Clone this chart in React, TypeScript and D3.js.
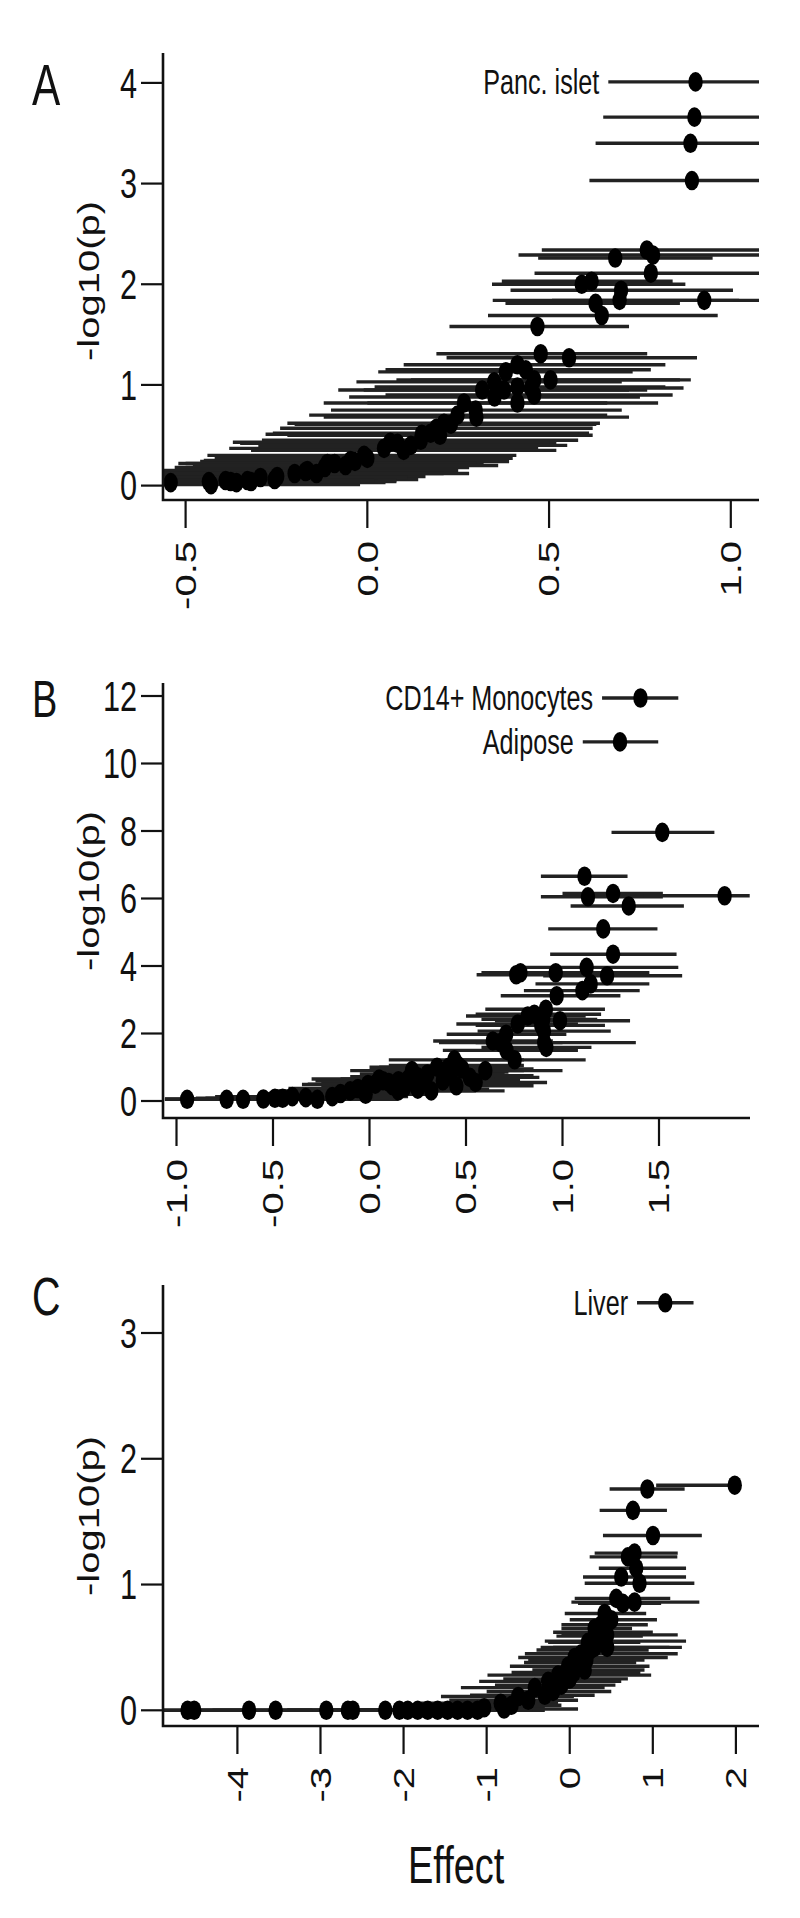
import React from "react";
import * as d3 from "d3";

// horizontal squeeze of the original figure
const K = 0.73;
const FONT = "'Liberation Sans', Arial, sans-serif";

// ---- Panel A : Panc. islet ----
const aEffect = [0.903, 0.9, 0.889, 0.893, 0.769, 0.786, 0.682, 0.78, 0.59, 0.617, 0.698, 0.694, 0.927, 0.628, 0.645, 0.468, 0.477, 0.555, 0.413, 0.436, 0.381, 0.349, 0.459, 0.504, 0.376, 0.413, 0.459, 0.413, 0.316, 0.45, 0.266, 0.298, 0.248, 0.23, 0.211, 0.19, 0.174, 0.15, 0.147, 0.083, 0.063, 0.046, -0.009, -0.034, -0.046, -0.09, -0.11, -0.117, -0.165, -0.17, -0.2, -0.248, -0.255, -0.294, -0.32, -0.33, -0.36, -0.376, -0.39, -0.43, -0.436, -0.541, 0.0, 0.1, 0.2, 0.12, -0.06, -0.14, 0.3, 0.35];
const aLogP = [4.01, 3.66, 3.4, 3.03, 2.34, 2.29, 2.26, 2.11, 2.0, 2.03, 1.94, 1.84, 1.84, 1.81, 1.69, 1.58, 1.31, 1.27, 1.2, 1.15, 1.13, 1.03, 1.05, 1.05, 0.95, 0.98, 0.9, 0.82, 0.95, 0.97, 0.82, 0.75, 0.7, 0.61, 0.62, 0.57, 0.52, 0.51, 0.45, 0.42, 0.43, 0.37, 0.3, 0.24, 0.25, 0.22, 0.22, 0.18, 0.15, 0.14, 0.12, 0.09, 0.06, 0.08, 0.04, 0.05, 0.03, 0.04, 0.05, 0.01, 0.04, 0.03, 0.27, 0.35, 0.5, 0.4, 0.2, 0.12, 0.68, 0.88];
const aLow = [0.663, 0.649, 0.628, 0.611, 0.48, 0.416, 0.47, 0.46, 0.343, 0.37, 0.394, 0.345, 0.508, 0.38, 0.332, 0.226, 0.19, 0.218, 0.1, 0.05, 0.03, -0.03, 0.08, 0.12, -0.01, 0.02, 0.05, 0.0, -0.08, 0.06, -0.12, -0.1, -0.16, -0.2, -0.22, -0.24, -0.26, -0.28, -0.29, -0.35, -0.37, -0.38, -0.44, -0.46, -0.45, -0.5, -0.52, -0.53, -0.58, -0.59, -0.61, -0.65, -0.66, -0.7, -0.73, -0.74, -0.77, -0.78, -0.8, -0.84, -0.85, -0.95, -0.42, -0.32, -0.22, -0.3, -0.48, -0.56, -0.12, -0.05];
const aHigh = [1.12, 1.15, 1.15, 1.17, 1.1, 1.15, 0.95, 1.1, 0.875, 0.84, 1.006, 1.023, 1.2, 0.86, 0.964, 0.72, 0.77, 0.907, 0.82, 0.78, 0.73, 0.7, 0.86, 0.89, 0.77, 0.82, 0.84, 0.8, 0.72, 0.87, 0.66, 0.7, 0.66, 0.63, 0.64, 0.62, 0.61, 0.58, 0.58, 0.52, 0.5, 0.47, 0.41, 0.39, 0.36, 0.32, 0.3, 0.28, 0.25, 0.24, 0.21, 0.16, 0.14, 0.11, 0.08, 0.08, 0.05, 0.03, 0.02, -0.02, -0.02, -0.13, 0.4, 0.52, 0.62, 0.55, 0.36, 0.28, 0.72, 0.75];
const aLabels = ["Panc. islet"];
const aXTicks = [-0.5, 0, 0.5, 1.0];
const aYTicks = [0, 1, 2, 3, 4];

// ---- Panel B : CD14+ Monocytes / Adipose ----
const bEffect = [1.404, 1.298, 1.517, 1.114, 1.132, 1.262, 1.343, 1.84, 1.211, 1.262, 0.76, 0.782, 0.965, 1.125, 1.231, 1.146, 1.103, 0.97, 0.914, 0.854, 0.82, 0.9, 0.987, 0.768, 0.89, 0.904, 0.708, 0.639, 0.68, 0.905, 0.916, 0.71, 0.752, 0.44, 0.48, 0.46, 0.41, 0.42, 0.388, 0.52, 0.55, 0.3, 0.25, 0.2, 0.15, 0.1, 0.07, 0.03, -0.008, 0.12, 0.18, 0.25, 0.32, -0.06, -0.1, -0.15, -0.193, -0.27, -0.33, -0.4, -0.45, -0.49, -0.55, -0.655, -0.74, -0.945, 0.05, 0.22, 0.35, 0.28, 0.38, 0.42, 0.15, -0.02, 0.45, 0.6];
const bLogP = [11.94, 10.64, 7.96, 6.66, 6.05, 6.15, 5.78, 6.08, 5.1, 4.35, 3.74, 3.8, 3.8, 3.96, 3.71, 3.47, 3.27, 3.12, 2.72, 2.57, 2.52, 2.42, 2.38, 2.28, 2.24, 2.07, 1.98, 1.78, 1.73, 1.73, 1.59, 1.5, 1.22, 1.22, 0.95, 1.05, 1.0, 0.9, 0.86, 0.7, 0.55, 0.8, 0.72, 0.65, 0.6, 0.55, 0.6, 0.5, 0.49, 0.45, 0.4, 0.35, 0.3, 0.37, 0.3, 0.22, 0.13, 0.05, 0.1, 0.13, 0.08, 0.08, 0.06, 0.05, 0.05, 0.05, 0.65, 0.9, 1.0, 0.55, 0.6, 0.75, 0.3, 0.2, 0.45, 0.9];
const bLow = [1.205, 1.105, 1.254, 0.888, 0.888, 1.0, 1.042, 1.42, 0.926, 0.936, 0.555, 0.58, 0.62, 0.8, 0.9, 0.86, 0.8, 0.68, 0.6, 0.55, 0.5, 0.58, 0.65, 0.45, 0.55, 0.56, 0.4, 0.33, 0.36, 0.55, 0.58, 0.38, 0.4, 0.1, 0.12, 0.1, 0.05, 0.05, 0.02, 0.15, 0.18, -0.05, -0.1, -0.15, -0.22, -0.25, -0.28, -0.32, -0.35, -0.25, -0.2, -0.15, -0.05, -0.42, -0.48, -0.55, -0.6, -0.7, -0.75, -0.8, -0.85, -0.9, -0.95, -1.06, -1.06, -1.06, -0.3, -0.1, 0.0, -0.1, 0.0, 0.05, -0.22, -0.38, 0.05, 0.22];
const bHigh = [1.6, 1.496, 1.787, 1.337, 1.52, 1.52, 1.629, 1.97, 1.492, 1.591, 1.05, 1.0, 1.45, 1.6, 1.62, 1.45, 1.4, 1.3, 1.22, 1.2, 1.12, 1.18, 1.35, 1.08, 1.22, 1.25, 1.02, 0.95, 1.0, 1.38, 1.15, 1.08, 1.12, 0.8, 0.85, 0.8, 0.75, 0.8, 0.72, 0.88, 0.92, 0.7, 0.65, 0.6, 0.55, 0.5, 0.45, 0.4, 0.35, 0.48, 0.55, 0.62, 0.7, 0.3, 0.25, 0.22, 0.2, 0.15, 0.1, 0.02, -0.05, -0.08, -0.15, -0.25, -0.35, -0.55, 0.42, 0.6, 0.72, 0.68, 0.78, 0.85, 0.55, 0.34, 0.85, 1.0];
const bLabels = ["CD14+ Monocytes", "Adipose"];
const bXTicks = [-1.0, -0.5, 0, 0.5, 1.0, 1.5];
const bYTicks = [0, 2, 4, 6, 8, 10, 12];

// ---- Panel C : Liver ----
const cEffect = [1.15, 1.986, 0.934, 0.761, 1.002, 0.7, 0.78, 0.8, 0.62, 0.84, 0.56, 0.78, 0.64, 0.5, 0.42, 0.38, 0.3, 0.3, 0.22, 0.38, 0.45, 0.25, 0.14, 0.06, 0.1, -0.02, 0.18, -0.14, 0.0, -0.26, -0.1, -0.42, -0.3, -0.62, -0.5, -0.83, -0.7, -1.03, -0.79, -1.11, -1.23, -1.35, -1.47, -1.59, -1.71, -1.83, -1.95, -2.05, -2.22, -2.61, -2.67, -2.93, -3.54, -3.86, -4.52, -4.6, 0.2, 0.35, 0.05, -0.2, 0.3, 0.45];
const cLogP = [3.24, 1.79, 1.76, 1.59, 1.39, 1.22, 1.25, 1.13, 1.06, 1.01, 0.89, 0.86, 0.85, 0.72, 0.77, 0.68, 0.65, 0.59, 0.54, 0.55, 0.5, 0.48, 0.45, 0.42, 0.38, 0.35, 0.32, 0.28, 0.25, 0.23, 0.2, 0.18, 0.12, 0.11, 0.08, 0.056, 0.04, 0.02, 0.01, 0, 0, 0, 0, 0, 0, 0, 0, 0, 0, 0, 0, 0, 0, 0, 0, 0, 0.4, 0.62, 0.3, 0.15, 0.5, 0.6];
const cLow = [0.81, 1.04, 0.48, 0.36, 0.4, 0.24, 0.3, 0.35, 0.16, 0.18, 0.06, 0.02, 0.1, 0.0, -0.06, -0.1, -0.1, -0.16, -0.26, -0.3, -0.2, -0.4, -0.54, -0.62, -0.55, -0.72, -0.45, -0.99, -0.8, -1.09, -0.9, -1.31, -1.2, -1.55, -1.45, -1.79, -1.6, -2.0, -1.7, -1.9, -2.0, -2.1, -2.2, -2.4, -2.5, -2.6, -2.8, -2.9, -3.0, -3.4, -3.4, -3.7, -4.3, -4.6, -4.95, -4.95, -0.5, -0.2, -0.7, -1.0, -0.35, -0.1];
const cHigh = [1.49, 1.99, 1.383, 1.17, 1.59, 1.295, 1.3, 1.4, 1.4, 1.5, 1.21, 1.56, 1.1, 1.05, 0.92, 0.94, 0.75, 0.88, 0.85, 1.4, 1.35, 0.95, 1.3, 1.18, 0.8, 0.96, 0.9, 0.98, 0.7, 0.62, 0.55, 0.42, 0.3, 0.05, 0.1, -0.14, -0.1, -0.3, 0.1, -0.3, -0.45, -0.6, -0.7, -0.8, -0.9, -1.0, -1.1, -1.2, -1.4, -1.8, -1.9, -2.1, -2.8, -3.1, -3.7, -3.8, 0.9, 1.0, 0.85, 0.5, 1.2, 1.3];
const cLabels = ["Liver"];
const cXTicks = [-4, -3, -2, -1, 0, 1, 2];
const cYTicks = [0, 1, 2, 3];

const fmt1 = (v) => (v < 0 ? "-" : "") + Math.abs(v).toFixed(1);
const fmt0 = (v) => (v < 0 ? "-" : "") + Math.abs(v).toFixed(0);

function T({ x, y, size, anchor = "start", rot = false, dy, children }) {
  return (
    <text
      transform={`translate(${x},${y}) scale(${K},1)${rot ? " rotate(-90)" : ""}`}
      fontSize={size}
      fontFamily={FONT}
      textAnchor={anchor}
      dy={dy}
      fill="#111"
    >
      {children}
    </text>
  );
}

function Panel({ cfg, effect, logp, low, high, labels, xTicks, yTicks, xFmt }) {
  const x = d3.scaleLinear().domain(cfg.xDom).range(cfg.xRng);
  const y = d3.scaleLinear().domain(cfg.yDom).range(cfg.yRng);
  const rows = d3.range(effect.length).map((i) => ({ e: effect[i], p: logp[i], lo: low[i], hi: high[i] }));
  const tickLen = 22;
  return (
    <g>
      <defs>
        <clipPath id={cfg.id}>
          <rect x={cfg.x0} y={cfg.yTop} width={cfg.x1 - cfg.x0} height={cfg.yBot - cfg.yTop} />
        </clipPath>
      </defs>
      {/* letter */}
      <T x={32} y={cfg.letterY} size={cfg.letterSize}>{cfg.letter}</T>

      <g clipPath={`url(#${cfg.id})`}>
        {rows.map((d, i) => (
          <line key={"l" + i} x1={x(d.lo)} x2={x(d.hi)} y1={y(d.p)} y2={y(d.p)} stroke="#222" strokeWidth={3.4} />
        ))}
        {rows.map((d, i) => (
          <ellipse key={"p" + i} cx={x(d.e)} cy={y(d.p)} rx={7.2} ry={9.8} fill="#000" />
        ))}
      </g>

      {/* point labels */}
      {labels.map((t, i) => (
        <T key={t} x={x(low[i]) - 9} y={y(logp[i])} size={34.5} anchor="end" dy="0.35em">{t}</T>
      ))}

      {/* L-shaped box */}
      <path d={`M${cfg.x0},${cfg.yTop}V${cfg.yBot}H${cfg.x1}`} fill="none" stroke="#111" strokeWidth={2.6} />

      {/* y axis */}
      {yTicks.map((t) => (
        <g key={"y" + t}>
          <line x1={cfg.x0 - tickLen} x2={cfg.x0} y1={y(t)} y2={y(t)} stroke="#111" strokeWidth={2.2} />
          <T x={cfg.x0 - tickLen - 4} y={y(t)} size={42} anchor="end" dy="0.35em">{fmt0(t)}</T>
        </g>
      ))}
      <T x={89} y={cfg.titleY} size={40} anchor="middle" rot dy="0.35em">-log10(p)</T>

      {/* x axis */}
      {xTicks.map((t) => (
        <g key={"x" + t}>
          <line x1={x(t)} x2={x(t)} y1={cfg.yBot} y2={cfg.yBot + 28} stroke="#111" strokeWidth={2.2} />
          <T x={x(t)} y={cfg.yBot + 41} size={40} anchor="end" rot dy="0.35em">{xFmt(t)}</T>
        </g>
      ))}
    </g>
  );
}

const cfgA = {
  id: "clipA", letter: "A", letterY: 105, letterSize: 58,
  xDom: [-0.5, 1.0], xRng: [185.6, 730.8], yDom: [0, 4], yRng: [485.6, 82.9],
  x0: 163, x1: 759, yTop: 53, yBot: 500, titleY: 281,
};
const cfgB = {
  id: "clipB", letter: "B", letterY: 717, letterSize: 52,
  xDom: [-1.0, 1.5], xRng: [176.5, 659], yDom: [0, 12], yRng: [1101, 696],
  x0: 163, x1: 750, yTop: 683, yBot: 1118, titleY: 891,
};
const cfgC = {
  id: "clipC", letter: "C", letterY: 1315, letterSize: 54,
  xDom: [-4, 2], xRng: [237.4, 735.9], yDom: [0, 3], yRng: [1710.3, 1333],
  x0: 163, x1: 759, yTop: 1285, yBot: 1726, titleY: 1516,
};

export default function App() {
  return (
    <svg
      width={800}
      height={1918}
      style={{ position: "absolute", left: 0, top: 0, background: "#fff" }}
    >
      <rect width={800} height={1918} fill="#fff" />
      <Panel cfg={cfgA} effect={aEffect} logp={aLogP} low={aLow} high={aHigh} labels={aLabels} xTicks={aXTicks} yTicks={aYTicks} xFmt={fmt1} />
      <Panel cfg={cfgB} effect={bEffect} logp={bLogP} low={bLow} high={bHigh} labels={bLabels} xTicks={bXTicks} yTicks={bYTicks} xFmt={fmt1} />
      <Panel cfg={cfgC} effect={cEffect} logp={cLogP} low={cLow} high={cHigh} labels={cLabels} xTicks={cXTicks} yTicks={cYTicks} xFmt={fmt0} />
      <T x={408} y={1883} size={52}>Effect</T>
    </svg>
  );
}
